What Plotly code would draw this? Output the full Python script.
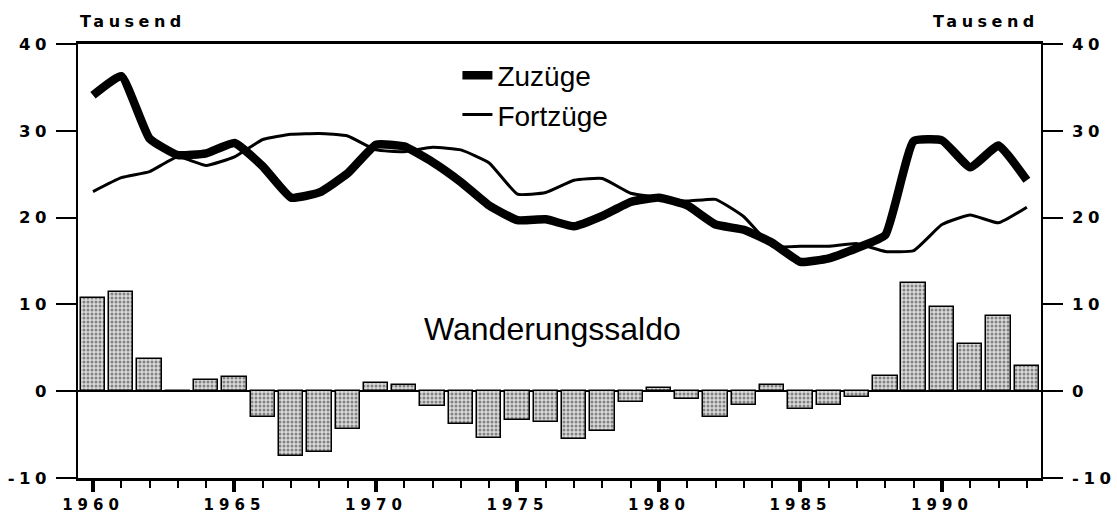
import plotly.graph_objects as go

# ---- data (Tausend) ----
years = list(range(1960, 1994))
zuzuege = [34.1, 36.3, 29.1, 27.2, 27.4, 28.6, 25.9, 22.3, 22.9, 25.1,
           28.4, 28.2, 26.4, 24.1, 21.4, 19.7, 19.8, 19.0, 20.2, 21.8,
           22.3, 21.4, 19.2, 18.6, 17.1, 14.9, 15.3, 16.5, 18.0, 28.8,
           28.9, 25.8, 28.3, 24.3]
fortzuege = [23.0, 24.6, 25.3, 27.0, 26.0, 27.0, 29.0, 29.6, 29.7, 29.4,
             27.8, 27.6, 28.1, 27.8, 26.3, 22.7, 22.9, 24.3, 24.5, 22.8,
             22.3, 21.9, 22.1, 20.1, 16.7, 16.7, 16.7, 17.0, 16.1, 16.2,
             19.2, 20.3, 19.4, 21.2]
saldo = [10.7, 11.4, 3.7, -0.1, 1.3, 1.6, -3.0, -7.5, -7.0, -4.4,
         0.9, 0.7, -1.7, -3.8, -5.4, -3.3, -3.5, -5.5, -4.6, -1.2,
         0.4, -0.9, -3.0, -1.6, 0.7, -2.1, -1.6, -0.7, 1.7, 12.5,
         9.7, 5.4, 8.7, 2.9]
y_tick_vals = [-10, 0, 10, 20, 30, 40]
x_major_years = [1960, 1965, 1970, 1975, 1980, 1985, 1990]
unit_label = "Tausend"
saldo_label = "Wanderungssaldo"
name_zu = "Zuzüge"
name_fort = "Fortzüge"


def spaced(s, px):
    return f'<span style="letter-spacing:{px}px">{s}</span>'


fig = go.Figure()
fig.add_trace(go.Bar(
    x=years, y=saldo, width=0.86, showlegend=False,
    marker=dict(color="#b4b4b4", line=dict(color="black", width=1.5),
                pattern=dict(shape=".", fgcolor="#2a2a2a", bgcolor="#dadada",
                             size=4, solidity=0.45)),
))
fig.add_trace(go.Scatter(
    x=years, y=zuzuege, mode="lines", name=name_zu,
    line=dict(color="black", width=8.5, shape="spline", smoothing=0.4),
))
fig.add_trace(go.Scatter(
    x=years, y=fortzuege, mode="lines", name=name_fort, yaxis="y2",
    line=dict(color="black", width=3, shape="spline", smoothing=0.4),
))

ytickfont = dict(family="DejaVu Sans", size=16.5, color="black", weight="bold")
xtickfont = dict(family="DejaVu Sans", size=15, color="black", weight="bold")
yax_common = dict(
    range=[-10, 40], tickmode="array", tickvals=y_tick_vals,
    ticktext=[spaced(v, 4.5) for v in y_tick_vals],
    ticks="outside", ticklen=20, tickwidth=2, tickcolor="black",
    showline=True, linewidth=1.5, linecolor="black",
    showgrid=False, tickfont=ytickfont, fixedrange=True, automargin=False,
)

fig.update_layout(
    width=1117, height=513,
    margin=dict(l=78, r=76, t=44, b=35, autoexpand=False),
    paper_bgcolor="white", plot_bgcolor="white",
    font=dict(family="DejaVu Sans", color="black"),
    bargap=0,
    xaxis=dict(
        range=[1959.47, 1993.5], tickmode="array", tickvals=x_major_years,
        ticktext=[spaced(v, 5) for v in x_major_years],
        ticks="outside", ticklen=11, tickwidth=4, tickcolor="black",
        showline=True, linewidth=2.5, linecolor="black", mirror=True,
        showgrid=False, zeroline=False, tickfont=xtickfont, automargin=False,
        fixedrange=True,
        minor=dict(tickvals=years, ticks="outside", ticklen=7, tickwidth=1.5,
                   tickcolor="black", showgrid=False),
    ),
    yaxis=dict(**yax_common, zeroline=True, zerolinewidth=1.5,
               zerolinecolor="black", ticklabelstandoff=2),
    yaxis2=dict(**yax_common, overlaying="y", side="right", anchor="x",
                zeroline=False, ticklabelstandoff=6),
    legend=dict(x=0.394, y=0.985, xanchor="left", yanchor="top",
                font=dict(family="Liberation Sans", size=28, color="black"),
                bgcolor="rgba(0,0,0,0)", borderwidth=0, tracegroupgap=0),
    annotations=[
        dict(text=spaced(unit_label, 4.5), xref="paper", yref="paper",
             x=0.0571, y=1, xanchor="center", yanchor="middle", yshift=23,
             showarrow=False,
             font=dict(family="DejaVu Sans", size=16, color="black", weight="bold")),
        dict(text=spaced(unit_label, 4.5), xref="paper", yref="paper",
             x=0.9434, y=1, xanchor="center", yanchor="middle", yshift=23,
             showarrow=False,
             font=dict(family="DejaVu Sans", size=16, color="black", weight="bold")),
        dict(text=saldo_label, xref="x", yref="y", x=1976.22, y=7.2,
             xanchor="center", yanchor="middle", showarrow=False,
             font=dict(family="Liberation Sans", size=32, color="black")),
    ],
)

fig.write_html(
    "out.html",
    config={"displayModeBar": False},
    post_script="document.body.style.margin='0';document.body.style.padding='0';",
)
